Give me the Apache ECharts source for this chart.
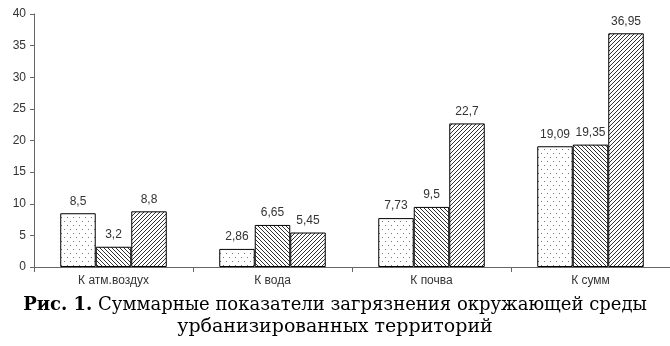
<!DOCTYPE html>
<html><head><meta charset="utf-8">
<script src="https://cdn.jsdelivr.net/npm/echarts@6/dist/echarts.min.js"></script>
<style>html,body{margin:0;padding:0;background:#fff}#c{width:670px;height:346px}</style>
</head><body><div id="c"></div>
<script>
var categories = ['К атм.воздух', 'К вода', 'К почва', 'К сумм'];
var series1 = [8.5, 2.86, 7.73, 19.09];
var series2 = [3.2, 6.65, 9.5, 19.35];
var series3 = [8.8, 5.45, 22.7, 36.95];
var yTicks = [0, 5, 10, 15, 20, 25, 30, 35, 40];

function dots() {
  var c = document.createElement('canvas'); c.width = 6; c.height = 8;
  var g = c.getContext('2d'); g.fillStyle = '#fff'; g.fillRect(0,0,6,8);
  g.fillStyle = '#777'; g.fillRect(1,1,1,1); g.fillRect(4,5,1,1);
  return c;
}
function hatch(dir) {
  var s = 4, c = document.createElement('canvas'); c.width = s; c.height = s;
  var g = c.getContext('2d'); g.fillStyle = '#fff'; g.fillRect(0,0,s,s);
  g.strokeStyle = '#333'; g.lineWidth = 1;
  g.beginPath();
  if (dir > 0) { g.moveTo(-1, s+1); g.lineTo(s+1, -1); g.moveTo(-1, 1); g.lineTo(1, -1); g.moveTo(s-1, s+1); g.lineTo(s+1, s-1); }
  else { g.moveTo(-1, -1); g.lineTo(s+1, s+1); g.moveTo(s-1, -1); g.lineTo(s+1, 1); g.moveTo(-1, s-1); g.lineTo(1, s+1); }
  g.stroke();
  return c;
}
function fmt(p) { return String(p.value).replace('.', ','); }
var labelStyle = { show: true, position: 'top', distance: 6, formatter: fmt, fontFamily: 'Liberation Sans, Arial', fontSize: 12, color: '#333' };
function mk(data, img) {
  return { type: 'bar', data: data, barGap: '0%', barCategoryGap: '33%',
    itemStyle: { color: { image: img, repeat: 'repeat' }, borderColor: '#000', borderWidth: 1 },
    label: labelStyle, emphasis: { disabled: true } };
}
var chart = echarts.init(document.getElementById('c'), null, { renderer: 'canvas' });
chart.setOption({
  animation: false,
  grid: { left: 34, right: 0, top: 14, bottom: 79 },
  xAxis: { type: 'category', data: categories,
    axisLine: { lineStyle: { color: '#666' } },
    axisTick: { show: true, length: 5, lineStyle: { color: '#666' } },
    axisLabel: { color: '#333', fontFamily: 'Liberation Sans, Arial', fontSize: 12, margin: 8 } },
  yAxis: { type: 'value', min: 0, max: 40, interval: 5,
    axisLine: { show: true, lineStyle: { color: '#666' } },
    axisTick: { show: true, length: 4, lineStyle: { color: '#666' } },
    splitLine: { show: false },
    axisLabel: { color: '#333', fontFamily: 'Liberation Sans, Arial', fontSize: 12, margin: 8,
      formatter: function (v) { return yTicks.indexOf(v) >= 0 ? String(v) : ''; } } },
  series: [mk(series1, dots()), mk(series2, hatch(-1)), mk(series3, hatch(1))],
  graphic: [
    { type: 'text', left: 'center', top: 296, style: { rich: { b: { fontWeight: 'bold', fontFamily: 'DejaVu Serif', fontSize: 18, fill: '#000' }, n: { fontFamily: 'DejaVu Serif', fontSize: 18, fill: '#000' } }, text: '{b|Рис. 1.}{n| Суммарные показатели загрязнения окружающей среды}' } },
    { type: 'text', left: 'center', top: 318, style: { text: 'урбанизированных территорий', fontFamily: 'DejaVu Serif', fontSize: 19, fill: '#000' } }
  ]
});
</script></body></html>
